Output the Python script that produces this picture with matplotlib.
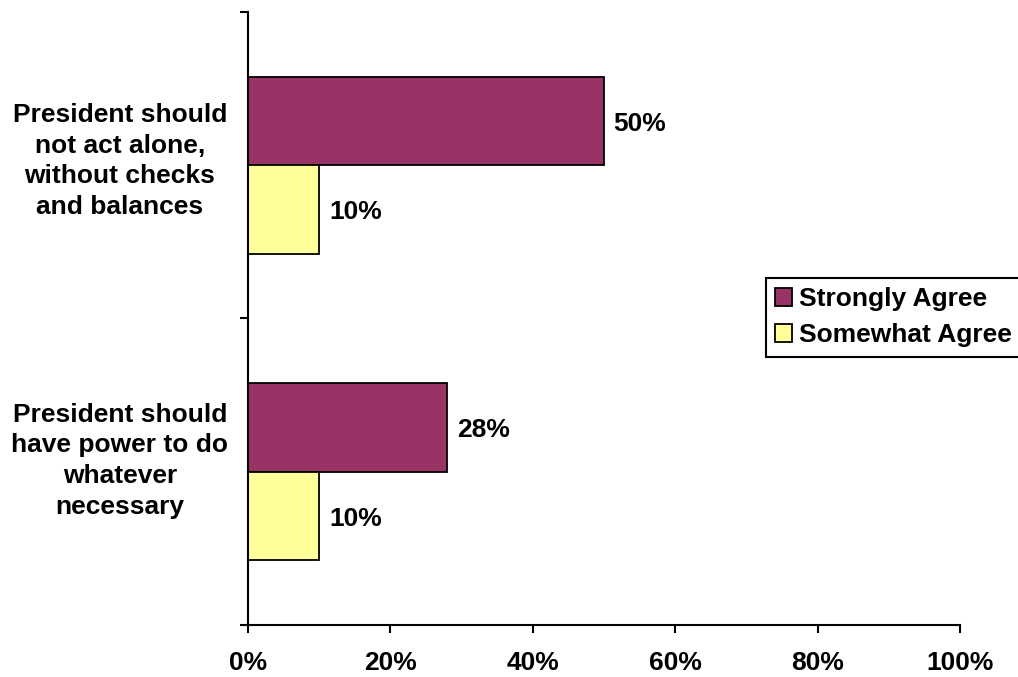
import matplotlib.pyplot as plt
import matplotlib.transforms as mtransforms

categories = ["President should\nnot act alone,\nwithout checks\nand balances",
              "President should\nhave power to do\nwhatever\nnecessary"]
strongly_agree = [50, 28]
somewhat_agree = [10, 10]
series_names = ["Strongly Agree", "Somewhat Agree"]
x_ticks = [0, 20, 40, 60, 80, 100]

plt.rcParams["font.family"] = ["Liberation Sans", "DejaVu Sans"]
plt.rcParams["font.weight"] = "bold"
FS = 19

fig = plt.figure(figsize=(10.18, 6.77), dpi=100)
ax = fig.add_axes([0.2436, 0.0768, 0.6994, 0.9055])

# top category first
centers = [1.5, 0.5]
bar_h = 0.288
ax.barh(centers, strongly_agree, height=bar_h, align="edge", color="#993366",
        edgecolor="black", linewidth=1.3, label=series_names[0])
ax.barh(centers, somewhat_agree, height=-bar_h, align="edge", color="#FFFF99",
        edgecolor="black", linewidth=1.3, label=series_names[1])

for c, v in zip(centers, strongly_agree):
    ax.annotate(f"{v}%", (v, c + bar_h / 2), xytext=(7, -2), textcoords="offset points",
                va="center", ha="left", fontsize=FS, fontweight="bold")
for c, v in zip(centers, somewhat_agree):
    ax.annotate(f"{v}%", (v, c - bar_h / 2), xytext=(7, -2), textcoords="offset points",
                va="center", ha="left", fontsize=FS, fontweight="bold")

# category labels, left of the axis (bottom one sits a little higher in the original)
trans = mtransforms.blended_transform_factory(ax.transAxes, ax.transData)
label_shift = [3, 8]
for c, lab, dy in zip(centers, categories, label_shift):
    ax.annotate(lab, (-0.18, c), xycoords=trans, xytext=(0, dy), textcoords="offset points",
                ha="center", va="center", fontsize=FS, fontweight="bold", linespacing=1.35)

ax.set_xlim(0, 100)
ax.set_ylim(0, 2)
ax.set_xticks(x_ticks)
ax.set_xticklabels([f"{t}%" for t in x_ticks], fontsize=FS, fontweight="bold")
ax.set_yticks([0, 1, 2])
ax.set_yticklabels([])
ax.tick_params(axis="both", direction="out", length=6, width=1.5, color="black")
ax.tick_params(axis="x", pad=13)

for side in ["top", "right"]:
    ax.spines[side].set_visible(False)
for side in ["left", "bottom"]:
    ax.spines[side].set_linewidth(1.5)
    ax.spines[side].set_color("black")

leg = ax.legend(loc="upper left", bbox_to_anchor=(0.752, 0.589), bbox_transform=fig.transFigure,
                borderaxespad=0, fancybox=False, edgecolor="black", fontsize=FS,
                handlelength=0.65, handleheight=0.65, handletextpad=0.25, borderpad=0.35,
                labelspacing=0.45)
leg.get_frame().set_linewidth(1.5)
leg.get_frame().set_alpha(1)

fig.savefig("out.png", dpi=100)
